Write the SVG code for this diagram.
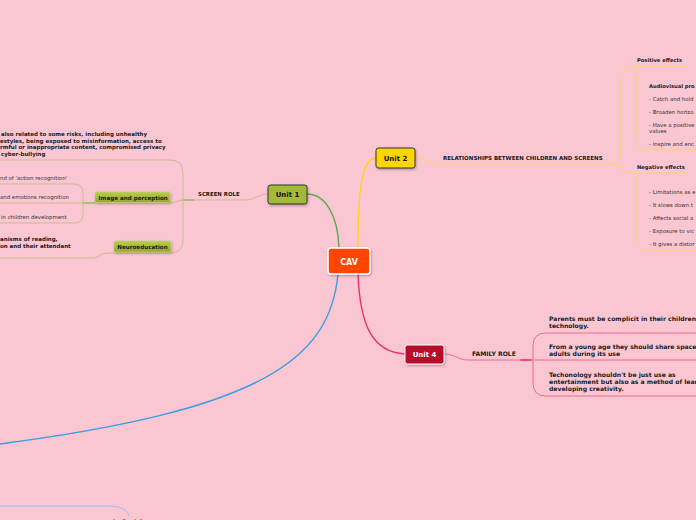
<svg xmlns="http://www.w3.org/2000/svg" width="696" height="520" viewBox="0 0 696 520">
<defs>
<filter id="sh" x="-20%" y="-20%" width="140%" height="160%">
<feDropShadow dx="0.8" dy="1.2" stdDeviation="0.8" flood-color="#000" flood-opacity="0.3"/>
</filter>
<linearGradient id="gsub" x1="0" y1="0" x2="0" y2="1">
<stop offset="0" stop-color="#B9CC4E"/>
<stop offset="1" stop-color="#93AA2C"/>
</linearGradient>
</defs>
<style>
.unit{font-family:"DejaVu Sans",Verdana,sans-serif;font-weight:bold;font-size:7px;text-anchor:middle}
.lbl{font-family:"DejaVu Sans",Verdana,sans-serif;font-weight:bold;font-size:5.2px;fill:#1a1a1a}
.blk{font-family:"DejaVu Sans",Verdana,sans-serif;font-weight:bold;font-size:5.5px;fill:#1a1a1a}
.item{font-family:"DejaVu Sans",Verdana,sans-serif;font-size:5.4px;fill:#333}
.fam{font-family:"DejaVu Sans",Verdana,sans-serif;font-weight:bold;font-size:6.1px;fill:#1a1a1a}
.c{fill:none;stroke-linecap:round}
.tan{stroke:#C9BB90;stroke-width:1}
.yel{stroke:#FFD36E;stroke-width:1}
.pnk{stroke:#EE6C90;stroke-width:1}
</style>
<rect width="696" height="520" fill="#F9C6D2"/>

<g id="connectors">
<path class="c" d="M307 194 C325 194 338 215 339 248" stroke="#5DAA4A" stroke-width="1.4"/>
<path class="c" d="M358 248 C358 190 362 158 376 158" stroke="#FFD21F" stroke-width="1.4"/>
<path class="c" d="M358 274 C360 325 372 352 405 354" stroke="#E8336A" stroke-width="1.4"/>
<path class="c" d="M338 274 C330 360 260 410 0 444" stroke="#3A9DE0" stroke-width="1.4"/>
<path class="c" d="M0 506 L110 506 Q128 507 129 516" stroke="#9DBFEA" stroke-width="1"/>

<path class="c tan" d="M268 194 C258 194 255 200 245 200 L183 200"/>
<path class="c" d="M183 200 L194 200" stroke="#7DB84A" stroke-width="1"/>
<path class="c tan" d="M183 200 L183 173 Q183 160 170 160 L0 160"/>
<path class="c tan" d="M183 200 L183 240 Q183 253 170 253 L108 253 Q102 253 99 256 Q97 258 92 258 L0 258"/>
<path class="c tan" d="M170 203 C176 203 178 200 183 200"/>
<path class="c tan" d="M95 203 L0 203"/>
<path class="c" d="M83 203 L95 203" stroke="#7DB84A" stroke-width="1"/>
<path class="c tan" d="M83 203 L83 193 Q83 184 74 184 L0 184"/>
<path class="c tan" d="M83 203 L83 214 Q83 223 74 223 L0 223"/>

<path class="c yel" d="M415 158 C428 158 428 164 440 164 L608 164"/>
<path class="c yel" d="M608 164 Q621 164 621 150 L621 80 Q621 66 634 66 L688 66"/>
<path class="c yel" d="M608 164 Q620 164 621 168 Q623 173 632 173 L688 173"/>
<path class="c yel" d="M637 66 L637 140 Q637 150 647 150 L696 150"/>
<path class="c yel" d="M637 173 L637 240 Q637 250 647 250 L696 250"/>

<path class="c pnk" d="M444 354 C455 354 458 360 468 360 L533 360"/>
<path class="c" d="M521 360 L531 360" stroke="#E8336A" stroke-width="1.6"/>
<path class="c pnk" d="M533 360 L533 346 Q533 333 546 333 L696 333"/>
<path class="c pnk" d="M533 360 L696 360"/>
<path class="c pnk" d="M533 360 L533 383 Q533 396 546 396 L696 396"/>
</g>

<g id="cav">
<rect x="328" y="248" width="42" height="26" rx="3" fill="#FF4500" stroke="#fff" stroke-width="1.5" filter="url(#sh)"/>
<text class="unit" x="349" y="264.5" fill="#fff" style="font-size:8px">CAV</text>
</g>

<g id="unit1">
<rect x="268" y="185" width="39" height="19" rx="2.5" fill="#A4B934" stroke="#333" stroke-width="1" filter="url(#sh)"/>
<text class="unit" x="287.5" y="197" fill="#111">Unit 1</text>
</g>

<g id="unit2">
<rect x="376" y="148" width="39" height="20" rx="2.5" fill="#FFD500" stroke="#333" stroke-width="1" filter="url(#sh)"/>
<text class="unit" x="395.5" y="160.5" fill="#111">Unit 2</text>
</g>

<g id="unit4">
<rect x="405" y="345" width="39" height="19" rx="2.5" fill="#B50A2C" stroke="#fff" stroke-width="1" filter="url(#sh)"/>
<text class="unit" x="424.5" y="357" fill="#fff">Unit 4</text>
</g>

<g id="screen-role">
<text class="lbl" x="198" y="196" style="font-size:5.4px">SCREEN ROLE</text>
</g>

<g id="risks">
<text class="blk" x="1" y="136">also related to some risks, including unhealthy</text>
<text class="blk" x="0" y="142.5">estyles, being exposed to misinformation, access to</text>
<text class="blk" x="0" y="149">rmful or inappropriate content, compromised privacy</text>
<text class="blk" x="1" y="155.5">cyber-bullying</text>
</g>

<g id="image-perception">
<rect x="95" y="192" width="75" height="10.5" rx="1.5" fill="url(#gsub)" stroke="#C4D46E" stroke-width="0.6" filter="url(#sh)"/>
<text class="lbl" x="98.5" y="199.5" style="font-size:5.6px">Image and perce<tspan dy="0.8">ption</tspan></text>
</g>

<g id="image-items">
<text class="item" x="0" y="180">nd of 'action recognition'</text>
<text class="item" x="0" y="199">and emotions recognition</text>
<text class="item" x="1" y="219">in children development</text>
</g>

<g id="neuroeducation">
<rect x="114" y="241" width="57" height="11" rx="1.5" fill="url(#gsub)" stroke="#C4D46E" stroke-width="0.6" filter="url(#sh)"/>
<text class="lbl" x="142.5" y="248.8" text-anchor="middle" style="font-size:5.6px">Neuroeducation</text>
<text class="blk" x="0" y="241">anisms of reading,</text>
<text class="blk" x="0" y="247.5">on and their attendant</text>
</g>

<g id="relationships">
<text class="lbl" x="443" y="160" style="font-size:5.5px">RELATIONSHIPS BETWEEN CHILDREN AND SCREENS</text>
</g>

<g id="positive">
<text class="lbl" x="637" y="62">Positive effects</text>
<text class="lbl" x="649" y="88">Audiovisual pro</text>
<text class="item" x="649" y="100.5">- Catch and hold</text>
<text class="item" x="649" y="113.5">- Broaden horizo</text>
<text class="item" x="649" y="126.5">- Have a positive</text>
<text class="item" x="649" y="132.5">values</text>
<text class="item" x="649" y="145.5">- Inspire and enc</text>
</g>

<g id="negative">
<text class="lbl" x="637" y="168.5">Negative effects</text>
<text class="item" x="649" y="194">- Limitations as e</text>
<text class="item" x="649" y="207">- It slows down t</text>
<text class="item" x="649" y="220">- Affects social a</text>
<text class="item" x="649" y="233">- Exposure to vic</text>
<text class="item" x="649" y="246">- It gives a distor</text>
</g>

<g id="family-role">
<text class="fam" x="472" y="356">FAMILY ROLE</text>
<text class="fam" x="549" y="320.5">Parents must be complicit in their children's</text>
<text class="fam" x="549" y="327.5">technology.</text>
<text class="fam" x="549" y="348.5">From a young age they should share space w</text>
<text class="fam" x="549" y="355.5">adults during its use</text>
<text class="fam" x="549" y="376.5">Techonology shouldn't be just use as</text>
<text class="fam" x="549" y="383.5">entertainment but also as a method of learn</text>
<text class="fam" x="549" y="391">developing creativity.</text>
</g>

<g id="social">
<text class="fam" x="113" y="523.5">In Social</text>
</g>
</svg>
